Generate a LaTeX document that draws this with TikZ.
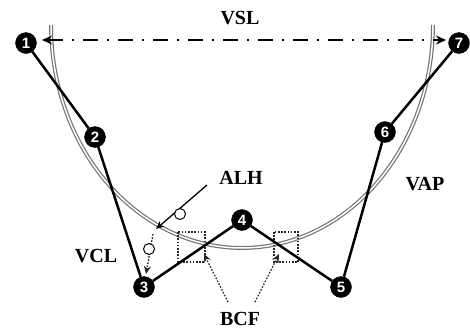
\documentclass[tikz,border=0pt]{standalone}
\usepackage{fontspec}
\setmainfont{Liberation Serif}
\newfontfamily\numfont{Liberation Sans}
\usetikzlibrary{arrows.meta}
\begin{document}
\begin{tikzpicture}[x=1pt,y=-1pt,
  pt/.style={circle, fill=black, draw=black, inner sep=0pt, minimum size=21pt, text=white, font=\numfont\bfseries\fontsize{15}{15}\selectfont},
  seg/.style={line width=2.5pt, black},
  lbl/.style={font=\bfseries\fontsize{20}{20}\selectfont, inner sep=0pt},
  ring/.style={circle, draw=black, fill=white, line width=1pt, minimum size=11pt, inner sep=0pt},
  dotl/.style={dash pattern=on 1.6pt off 1.6pt, line width=1.3pt, black!85},
  tip/.style={-{Stealth[length=8pt,width=7pt]}}
  ]
\useasboundingbox (0,0) rectangle (470,333);
% valve arc
\draw[black!55, line width=1.2pt, double=white, double distance=1.5pt]
  plot[domain=180:360, samples=90] ({242+191*cos(\x)},{25-223*sin(\x)});
% VSL
\coordinate (vl) at (42,40);
\coordinate (vr) at (446,40);
\draw[line width=1.4pt, dash pattern=on 15pt off 9pt on 2pt off 9pt,
  {Stealth[length=10pt,width=9pt]}-{Stealth[length=10pt,width=9pt]}] (vl) -- (vr);
\node[lbl] (tvsl) at (240,18) {VSL};
% BCF boxes and arrows
\draw[dotl, line width=1.1pt] (178,232) rectangle (205,262);
\draw[dotl, line width=1.1pt] (274,232) rectangle (298,262);
\node[lbl] (tbcf) at (240,319) {BCF};
\coordinate (b1s) at (228,302);
\coordinate (b1e) at (204,254);
\coordinate (b2s) at (255,302);
\coordinate (b2e) at (279,254);
\draw[dotl, tip] (b1s) -- (b1e);
\draw[dotl, tip] (b2s) -- (b2e);
% ALH
\node[lbl] (talh) at (241,178) {ALH};
\coordinate (alhA) at (207,185);
\coordinate (alhB) at (156,229);
\draw[line width=1.3pt, tip] (alhA) -- (alhB);
\node[ring] (r1) at (180,214) {};
% VCL
\node[lbl] (tvcl) at (96,256) {VCL};
\coordinate (vcA) at (153,234);
\coordinate (vcB) at (146,274);
\draw[dotl, tip] (vcA) -- (vcB);
\node[ring] (r2) at (149,249) {};
% VAP
\node[lbl] (tvap) at (425,184) {VAP};
% nodes
\node[pt] (n1) at (26,43) {1};
\node[pt] (n2) at (95,137) {2};
\node[pt] (n3) at (144,287) {3};
\node[pt] (n4) at (242,220) {4};
\node[pt] (n5) at (341,287) {5};
\node[pt] (n6) at (385,132) {6};
\node[pt] (n7) at (459,43) {7};
\draw[seg] (n1) -- (n2) -- (n3) -- (n4) -- (n5) -- (n6) -- (n7);
\end{tikzpicture}
\end{document}
